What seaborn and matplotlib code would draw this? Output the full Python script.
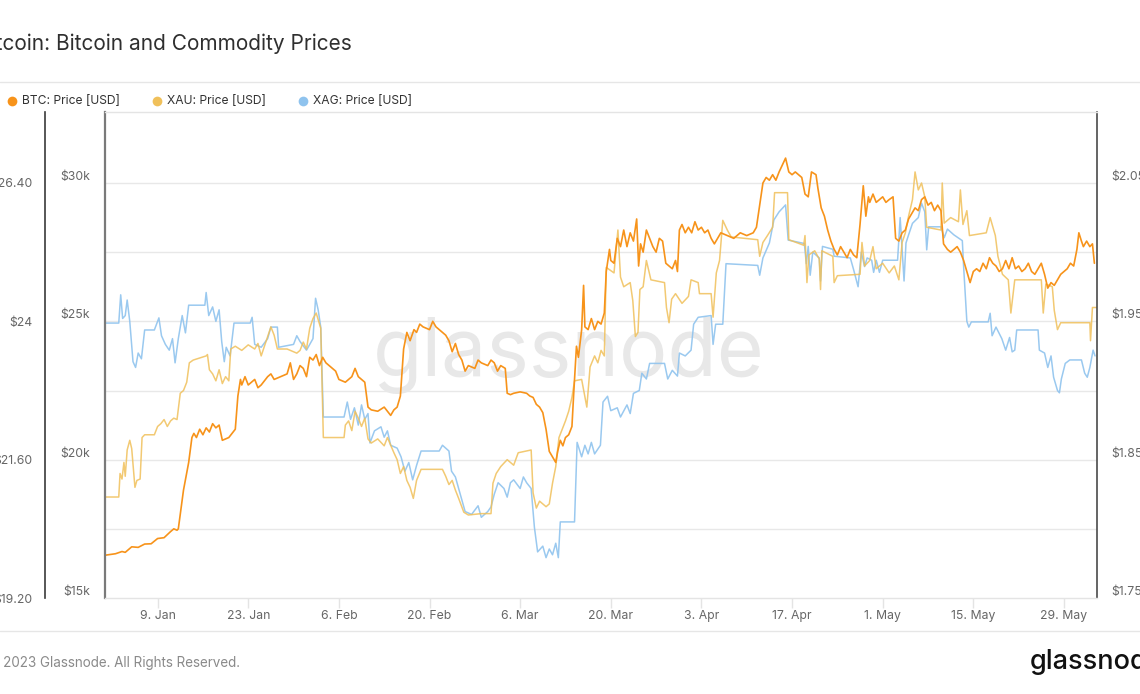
import numpy as np
import pandas as pd
import matplotlib
matplotlib.use("Agg")
import matplotlib.pyplot as plt
from matplotlib.lines import Line2D
import seaborn as sns

# ---------------- data (days since 2023-01-01, price in USD) ----------------
btc_days = [0, 1.5, 2.5, 3, 4, 5, 6, 7, 8, 9, 10, 10.5, 11, 11.2, 11.6, 12.0, 12.8, 13.3, 13.6, 14, 14.5,
            15, 15.5, 16, 16.5, 17, 17.5, 18, 18.5, 19, 19.5, 20, 20.4, 20.8, 21, 21.5, 22, 23, 23.5, 24,
            25, 25.5, 26, 27, 28, 28.5, 29, 29.5, 30, 30.5, 31, 31.5, 32, 32.5, 33, 33.5, 34, 35, 35.5,
            36, 37, 37.5, 38, 38.5, 39, 40, 40.5, 41, 42, 43, 44, 44.5, 45, 45.5, 46, 46.5, 47, 47.6, 48,
            48.5, 49, 50, 50.5, 51, 52, 52.5, 53, 53.5, 54, 54.5, 55, 55.5, 56, 57, 57.5, 58, 59, 59.5,
            60, 60.5, 61, 61.7, 62, 62.5, 63, 64, 65, 65.5, 66, 66.5, 67, 67.5, 68, 68.5, 69, 69.5, 69.8,
            70.2, 70.6, 71, 71.5, 72, 72.3, 72.7, 73, 73.5, 73.8, 74, 74.5, 75, 75.5, 76, 76.5, 77, 77.3,
            77.8, 78, 78.5, 79, 79.5, 80, 80.5, 81, 81.5, 82, 82.3, 82.6, 83, 83.5, 84, 84.5, 85, 85.5,
            86, 86.5, 87, 87.5, 88, 88.3, 88.6, 89, 89.5, 90, 90.5, 91, 91.5, 92, 92.5, 93, 93.5, 94,
            94.5, 95, 96, 97, 98, 99, 100, 100.5, 101, 101.5, 102, 102.5, 103, 103.5, 104, 104.8, 105,
            105.5, 106, 106.5, 107, 107.5, 108, 108.5, 109, 109.7, 110, 110.5, 111, 111.5, 112, 112.5,
            113, 113.5, 114, 114.5, 115, 115.5, 116, 116.5, 117, 117.4, 117.8, 118, 118.5, 119, 119.5,
            120, 120.5, 121, 121.6, 122, 122.5, 123, 123.5, 124, 124.5, 125, 125.5, 126, 126.5, 127,
            127.5, 128, 128.5, 129, 129.4, 130, 130.5, 131, 131.5, 132, 132.5, 133, 133.5, 134, 134.5,
            135, 135.5, 136, 136.5, 137, 137.5, 138, 138.5, 139, 139.5, 140, 140.5, 141, 141.5, 142,
            142.5, 143, 143.5, 144, 144.5, 145, 145.5, 146, 146.5, 147, 147.5, 148, 148.5, 149, 149.5,
            150, 150.3, 150.7, 151, 151.5, 152, 152.4, 152.7]
btc_price = [16550, 16600, 16680, 16650, 16850, 16830, 16950, 16960, 17150, 17180, 17400, 17500, 17450,
             17500, 18200, 18900, 19900, 20800, 20950, 20800, 21100, 20900, 21150, 21000, 21300, 21150,
             21250, 20700, 20750, 20800, 20950, 21100, 22300, 22900, 22700, 23000, 22700, 22900, 22600,
             22700, 23000, 23100, 22900, 23000, 23100, 23500, 22900, 23100, 23400, 23300, 23000, 23700,
             23600, 23800, 23400, 23700, 23500, 23300, 23200, 22900, 22800, 22900, 23000, 23300, 23000,
             22800, 21900, 21800, 21750, 21900, 21600, 21800, 21900, 22300, 24000, 24600, 24300, 24700,
             24600, 24900, 24800, 24700, 25000, 24800, 24600, 24500, 24300, 23900, 24200, 23800, 23600,
             23200, 23400, 23300, 23600, 23500, 23400, 23600, 23500, 23200, 23400, 23300, 22400, 22350,
             22400, 22450, 22400, 22300, 22250, 22000, 21900, 21700, 21100, 20300, 20100, 19900, 20300,
             20700, 20500, 20800, 20900, 21200, 22500, 24100, 23700, 24700, 26300, 24800, 24700, 25100,
             24700, 25000, 24900, 25300, 26800, 27600, 27200, 27100, 28000, 27700, 28300, 27700, 28200,
             27900, 28700, 27000, 27800, 27500, 28300, 28000, 27700, 27500, 28000, 27900, 27100, 27000,
             26900, 27200, 26800, 28300, 28500, 28200, 28400, 28200, 28600, 28300, 28400, 28200, 28300,
             28000, 27800, 28000, 28200, 28100, 28000, 28200, 28100, 28200, 28400, 29200, 30000, 30200,
             30100, 30300, 30100, 30400, 30800, 30900, 30400, 30300, 30400, 30300, 30200, 29600, 29500,
             30400, 30300, 29800, 29100, 28800, 28300, 27900, 27600, 27400, 27700, 27500, 27300, 27600,
             27400, 27300, 28500, 29900, 28800, 29500, 29300, 29600, 29300, 29400, 29500, 29300, 29400,
             29500, 28000, 27900, 28200, 28300, 28700, 28900, 29100, 29000, 29400, 29500, 29200, 29300,
             29000, 29200, 29000, 27800, 27600, 27500, 27600, 27700, 27500, 27200, 26800, 26400, 26800,
             26900, 26800, 27100, 26900, 27300, 27100, 27000, 26800, 26900, 27200, 26900, 27300, 26900,
             27000, 26800, 26900, 27100, 26800, 26700, 26900, 27100, 26700, 26200, 26400, 26300, 26500,
             26700, 26800, 26900, 27100, 27000, 27600, 28200, 27900, 27700, 27900, 27700, 27800, 27100]

xau_days = [0, 2.0, 2.2, 2.5, 2.8, 3.0, 3.3, 3.7, 4.0, 4.5, 4.8, 5.3, 5.6, 6, 7.5, 8, 8.5, 9, 9.5, 10,
            10.5, 11, 11.5, 12, 12.5, 12.9, 13.5, 15.5, 15.7, 16, 16.5, 17, 17.5, 18, 18.5, 19, 19.3, 20,
            21, 22, 23, 23.5, 24, 24.5, 25.5, 26, 26.5, 28, 29.5, 30, 30.5, 31, 31.5, 32, 32.5, 33.2,
            33.6, 36.8, 37, 37.5, 38, 38.5, 39, 39.5, 40, 40.5, 41, 42, 43, 43.5, 44.5, 45, 45.5, 46,
            46.5, 47, 47.5, 48, 48.7, 52, 52.5, 53, 53.5, 54, 54.5, 55.3, 56, 58, 59.5, 59.8, 60.3, 61,
            62, 63, 63.7, 65.7, 66, 66.5, 67, 68, 68.5, 69, 69.5, 70, 71, 71.5, 72, 72.4, 73.5, 74.3,
            74.8, 75.5, 76, 76.5, 77, 77.3, 78.5, 79.1, 79.5, 80, 81, 81.4, 81.8, 82.2, 82.5, 83, 83.5,
            84.2, 86.3, 86.6, 87, 87.4, 88, 89, 90, 90.4, 91.5, 91.7, 93.5, 93.8, 94.3, 94.8, 95.3, 96,
            96.6, 100.7, 101, 101.5, 102.2, 103, 103.3, 105.3, 105.5, 107.8, 108, 108.3, 108.6, 109.5,
            110.2, 110.4, 110.6, 112.3, 112.5, 113, 116.5, 116.8, 117.2, 118, 118.5, 119, 120, 121,
            121.8, 122.5, 123, 123.5, 124, 124.6, 125, 125.5, 126, 126.5, 126.8, 129, 129.2, 129.5,
            130.5, 131.7, 132, 132.4, 133, 133.4, 136, 136.6, 137.4, 137.8, 138.5, 139.4, 139.8, 140.4,
            144.5, 144.8, 145.2, 146.2, 146.5, 147, 147.5, 148, 152, 152.1, 152.4, 153]
xau_price = [1823, 1823, 1840, 1836, 1848, 1838, 1857, 1864, 1858, 1830, 1835, 1836, 1866, 1868, 1868,
             1874, 1876, 1879, 1874, 1878, 1880, 1879, 1898, 1900, 1906, 1920, 1922, 1925, 1926, 1915,
             1912, 1907, 1915, 1905, 1910, 1907, 1930, 1932, 1929, 1933, 1930, 1934, 1925, 1932, 1946,
             1940, 1930, 1930, 1927, 1929, 1935, 1930, 1945, 1952, 1956, 1945, 1866, 1866, 1875, 1878,
             1871, 1885, 1880, 1874, 1880, 1865, 1862, 1865, 1860, 1866, 1855, 1850, 1840, 1845, 1835,
             1830, 1822, 1835, 1843, 1843, 1838, 1832, 1835, 1828, 1822, 1812, 1810, 1811, 1811, 1833,
             1840, 1845, 1850, 1846, 1855, 1857, 1826, 1815, 1820, 1816, 1818, 1833, 1845, 1866, 1878,
             1885, 1895, 1907, 1908, 1888, 1917, 1925, 1920, 1929, 1925, 1989, 1985, 2016, 1982, 1975,
             1978, 1965, 1939, 1942, 1973, 1975, 1994, 1980, 1978, 1960, 1949, 1966, 1970, 1963, 1968,
             1980, 1978, 1970, 1970, 1953, 1985, 1994, 2023, 2016, 2011, 2009, 1997, 2007, 2012, 2018,
             2043, 2043, 2009, 2005, 2012, 1978, 1998, 2001, 1995, 1973, 2001, 1997, 1978, 1983, 1984,
             2007, 1990, 1994, 2004, 1988, 1992, 1985, 1990, 1980, 2007, 2014, 2026, 2038, 2058, 2045,
             2050, 2040, 2018, 2016, 2050, 2021, 2025, 2022, 2045, 2020, 2030, 2012, 2014, 2025, 2012,
             1997, 1984, 1980, 1956, 1980, 1980, 1956, 1977, 1975, 1958, 1944, 1949, 1949, 1949, 1936,
             1960, 1960]

xag_days = [0, 2.0, 2.3, 2.6, 3.0, 3.3, 3.7, 4.2, 4.6, 5, 5.5, 6, 7.5, 8.2, 8.6, 9.2, 9.8, 10.3, 10.7,
            11.2, 11.8, 12.3, 12.8, 15.3, 15.5, 15.9, 16.5, 17.0, 17.5, 17.9, 18.3, 18.6, 19.2, 19.8,
            22.3, 22.6, 23.0, 24, 25, 25.5, 26.5, 26.7, 29, 29.5, 30, 31, 31.5, 32, 32.4, 32.8, 33.2,
            33.6, 36.8, 37.3, 37.8, 38.4, 39, 39.5, 40, 40.5, 40.8, 41.5, 42.5, 43, 43.5, 44, 45, 45.6,
            46.2, 46.8, 47.4, 48, 48.7, 51.5, 52, 53, 53.4, 54, 54.5, 55, 55.5, 56.5, 57.5, 58, 59, 59.5,
            60, 60.6, 61.5, 62, 62.5, 63, 64, 64.5, 65, 65.7, 66.2, 66.7, 67.5, 68, 68.5, 69, 69.5, 69.9,
            70.2, 72.4, 72.8, 73.5, 74, 74.5, 75, 75.5, 76.4, 76.8, 77.5, 78, 79, 79.5, 80.5, 81, 81.5,
            82.4, 82.8, 83.5, 84, 86.3, 86.8, 87.5, 88.3, 88.6, 89.5, 90.4, 90.8, 91.5, 93.5, 93.8, 94.2,
            95.3, 95.8, 100.7, 101, 101.5, 102.5, 103.2, 104, 105, 105.4, 107.9, 108.2, 108.5, 108.8,
            109.2, 110.2, 110.4, 110.7, 112.3, 112.5, 115, 115.5, 116.2, 116.7, 117.2, 117.6, 118.3,
            118.6, 119, 119.5, 120, 122.3, 122.7, 123.3, 123.6, 124, 124.6, 125.5, 126, 126.5, 126.8,
            127.1, 129, 129.5, 130, 131, 132.3, 132.5, 133, 133.3, 133.7, 136.3, 136.6, 136.9, 137.5,
            138.4, 139, 139.6, 140, 140.4, 140.7, 144, 144.2, 145, 145.5, 146, 146.4, 147, 147.3, 147.6,
            148.2, 148.9, 150.7, 151.2, 151.6, 152, 152.5, 152.8]
xag_price = [23.97, 23.97, 24.46, 24.05, 24.10, 24.37, 24.00, 23.30, 23.20, 23.45, 23.35, 23.85, 23.85,
             24.06, 23.75, 23.60, 23.50, 23.70, 23.28, 23.70, 24.10, 23.80, 24.28, 24.28, 24.50, 24.10,
             24.25, 24.00, 24.20, 23.65, 23.30, 23.55, 23.40, 23.97, 23.97, 24.07, 23.60, 23.55, 23.70,
             23.90, 23.90, 23.55, 23.60, 23.75, 23.65, 23.50, 23.60, 23.70, 24.40, 24.20, 23.90, 22.34,
             22.34, 22.60, 22.30, 22.50, 22.20, 22.55, 22.30, 22.40, 21.89, 22.10, 22.17, 21.99, 22.10,
             21.85, 21.80, 21.65, 21.40, 21.55, 21.25, 21.50, 21.75, 21.75, 21.85, 21.75, 21.40, 21.30,
             21.10, 20.90, 20.70, 20.65, 20.80, 20.60, 20.70, 20.78, 21.00, 21.20, 21.10, 20.95, 21.20,
             21.25, 21.10, 21.30, 21.20, 21.10, 20.43, 20.00, 20.10, 19.90, 20.05, 19.95, 20.15, 19.90,
             20.52, 20.52, 21.90, 21.65, 21.85, 21.70, 21.90, 21.70, 21.85, 22.60, 22.70, 22.45, 22.50,
             22.34, 22.55, 22.40, 22.75, 22.80, 23.10, 23.00, 23.27, 23.27, 23.00, 23.15, 23.05, 23.45,
             23.40, 23.50, 23.95, 24.07, 24.10, 23.60, 23.95, 23.95, 25.00, 24.97, 24.80, 25.10, 25.36,
             25.76, 25.90, 26.02, 25.41, 25.35, 25.00, 25.30, 24.80, 25.20, 25.10, 24.70, 25.30, 25.25,
             25.13, 25.10, 24.90, 24.60, 25.20, 24.95, 25.10, 25.06, 24.85, 25.06, 24.85, 25.06, 25.06,
             25.80, 24.70, 25.36, 25.50, 25.70, 25.80, 26.05, 25.90, 25.24, 25.64, 25.64, 25.45, 25.60,
             25.50, 25.40, 24.95, 24.00, 23.90, 23.99, 23.99, 24.14, 23.75, 23.90, 23.70, 23.50, 23.72,
             23.47, 23.50, 23.85, 23.85, 23.50, 23.45, 23.20, 23.40, 23.03, 22.80, 22.76, 23.00, 23.27,
             23.33, 23.33, 23.10, 23.03, 23.20, 23.50, 23.40]

start_date = "2023-01-01"
xtick_dates = ["2023-01-09", "2023-01-23", "2023-02-06", "2023-02-20", "2023-03-06", "2023-03-20",
               "2023-04-03", "2023-04-17", "2023-05-01", "2023-05-15", "2023-05-29"]
xtick_labels = ["9. Jan", "23. Jan", "6. Feb", "20. Feb", "6. Mar", "20. Mar",
                "3. Apr", "17. Apr", "1. May", "15. May", "29. May"]
btc_ticks = [15000, 20000, 25000, 30000]
btc_tick_labels = ["$15k", "$20k", "$25k", "$30k"]
xag_ticks = [19.20, 21.60, 24.00, 26.40]
xag_tick_labels = ["$19.20", "$21.60", "$24", "$26.40"]
xag_grid = [20.40, 21.60, 22.80, 24.00, 25.20, 26.40]
xau_ticks = [1750, 1850, 1950, 2050]
xau_tick_labels = ["$1.75k", "$1.85k", "$1.95k", "$2.05k"]

series_names = ["BTC: Price [USD]", "XAU: Price [USD]", "XAG: Price [USD]"]
title = "Bitcoin: Bitcoin and Commodity Prices"
footer = "© 2023 Glassnode. All Rights Reserved."

# ---------------- style ----------------
C_BTC = "#f7931a"
C_XAU = "#f0c05a"
C_XAG = "#8fc3ee"
TICK_FS = 8.8

sns.set_theme(style="white")
plt.rcParams["font.family"] = ["Inter", "DejaVu Sans"]

W, H = 1140, 694
fig = plt.figure(figsize=(W / 100, H / 100), dpi=100)
fig.patch.set_facecolor("white")

L, R, T, B = 105, 1097, 112, 598
ax = fig.add_axes([L / W, 1 - B / H, (R - L) / W, (B - T) / H])
ax_xag = ax.twinx()
ax_xau = ax.twinx()

start = pd.Timestamp(start_date)
btc_t = start + pd.to_timedelta(btc_days, unit="D")
xau_t = start + pd.to_timedelta(xau_days, unit="D")
xag_t = start + pd.to_timedelta(xag_days, unit="D")

sns.lineplot(x=xag_t, y=xag_price, ax=ax_xag, color=C_XAG, lw=1.1, alpha=0.9,
             legend=False, estimator=None, sort=False)
sns.lineplot(x=xau_t, y=xau_price, ax=ax_xau, color=C_XAU, lw=1.1, alpha=0.85,
             legend=False, estimator=None, sort=False)
sns.lineplot(x=btc_t, y=btc_price, ax=ax, color=C_BTC, lw=1.2,
             legend=False, estimator=None, sort=False)

# stacking: silver axes at the bottom (holds grid + watermark), BTC on top
ax_xag.set_zorder(1)
ax_xau.set_zorder(2)
ax.set_zorder(3)
ax_xag.patch.set_visible(True)
ax_xag.patch.set_facecolor("white")
ax.patch.set_visible(False)
ax_xau.patch.set_visible(False)

# limits (same pixel mapping for all three scales)
px_span = (B - T) / 415.0
ax.set_ylim(15000, 15000 + 15000 * px_span)
ax_xag.set_ylim(19.20, 19.20 + 7.2 * px_span)
ax_xau.set_ylim(1750, 1750 + 300 * px_span)
x0 = start - pd.Timedelta(hours=3)
ax.set_xlim(x0, x0 + pd.Timedelta(days=(R - L) / 6.474))

# gridlines on bottom axes
for g in xag_grid:
    ax_xag.axhline(g, color="#e8e8e8", lw=1, zorder=0.5)

# watermark
ax_xag.text(0.467, 0.5, "glassnode", transform=ax_xag.transAxes, ha="center", va="center",
            fontsize=58, color="#e8e8e8", zorder=0.2)

# ticks
ax.set_xticks(pd.to_datetime(xtick_dates))
ax.set_xticklabels(xtick_labels)
ax.tick_params(axis="x", bottom=True, length=7, width=1, color="#e4e4e4", pad=1.5,
               labelsize=TICK_FS, labelcolor="#666666")

ax.set_yticks(btc_ticks)
ax.set_yticklabels(btc_tick_labels)
ax.tick_params(axis="y", left=True, right=False, length=0, pad=11, labelsize=TICK_FS,
               labelcolor="#666666")

ax_xag.yaxis.tick_left()
ax_xag.set_yticks(xag_ticks)
ax_xag.set_yticklabels(xag_tick_labels)
ax_xag.tick_params(axis="y", left=True, right=False, labelleft=True, labelright=False,
                   length=0, pad=9, labelsize=TICK_FS, labelcolor="#666666")

ax_xau.set_yticks(xau_ticks)
ax_xau.set_yticklabels(xau_tick_labels)
ax_xau.tick_params(axis="y", right=True, labelright=True, length=0, pad=10.5, labelsize=TICK_FS,
                   labelcolor="#666666")

for a in (ax, ax_xag, ax_xau):
    a.set_ylabel("")
    a.set_xlabel("")
    a.grid(False)
    for lab in a.get_yticklabels():
        lab.set_verticalalignment("bottom")

# spines
for a in (ax, ax_xag, ax_xau):
    for s in a.spines.values():
        s.set_visible(False)
ax.spines["left"].set_visible(True)
ax.spines["left"].set_color("#7a7a7a")
ax.spines["left"].set_linewidth(1.6)
ax.spines["bottom"].set_visible(True)
ax.spines["bottom"].set_color("#e4e4e4")
ax.spines["bottom"].set_linewidth(1)
ax.spines["top"].set_visible(True)
ax.spines["top"].set_color("#e4e4e4")
ax.spines["top"].set_linewidth(1)
ax_xag.spines["left"].set_visible(True)
ax_xag.spines["left"].set_position(("axes", -60 / (R - L)))
ax_xag.spines["left"].set_color("#3a3a3a")
ax_xag.spines["left"].set_linewidth(1.2)
ax_xau.spines["right"].set_visible(True)
ax_xau.spines["right"].set_color("#4a4a4a")
ax_xau.spines["right"].set_linewidth(1.2)

# ---------------- figure decorations ----------------
def fx(px):
    return px / W

def fy(py):
    return 1 - py / H

fig.text(fx(352), fy(44), title, ha="right", va="center", fontsize=15, color="#2f2f2f")
fig.add_artist(Line2D([0, 1], [fy(82), fy(82)], color="#e6e6e6", lw=1))
fig.add_artist(Line2D([0, 1], [fy(631), fy(631)], color="#e6e6e6", lw=1))

legend_x = [12, 157, 303]
for xpos, name, col in zip(legend_x, series_names, [C_BTC, C_XAU, C_XAG]):
    fig.add_artist(Line2D([fx(xpos)], [fy(101)], marker="o", markersize=7, color=col,
                          markeredgewidth=0, linestyle="none"))
    fig.text(fx(xpos + 10), fy(101), name, ha="left", va="center", fontsize=8.7, color="#333333")

fig.text(fx(240), fy(663), footer, ha="right", va="center", fontsize=9.7, color="#8a8a8a")
fig.text(fx(1030), fy(662), "glassnode", ha="left", va="center", fontsize=19.5,
         color="#111111", fontweight="medium")

fig.savefig("out.png", dpi=100, facecolor="white")
